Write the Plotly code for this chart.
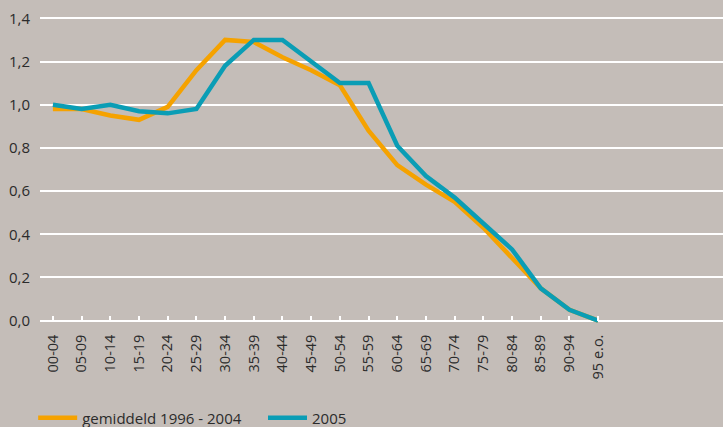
import plotly.graph_objects as go

categories = ["00-04", "05-09", "10-14", "15-19", "20-24", "25-29", "30-34", "35-39",
              "40-44", "45-49", "50-54", "55-59", "60-64", "65-69", "70-74", "75-79",
              "80-84", "85-89", "90-94", "95 e.o."]
gemiddeld = [0.98, 0.98, 0.95, 0.93, 0.99, 1.16, 1.30, 1.29, 1.22, 1.16, 1.09, 0.88,
             0.72, 0.63, 0.55, 0.43, 0.29, 0.15, 0.05, 0.0]
y2005 = [1.00, 0.98, 1.00, 0.97, 0.96, 0.98, 1.18, 1.30, 1.30, 1.20, 1.10, 1.10,
         0.81, 0.67, 0.57, 0.45, 0.33, 0.15, 0.05, 0.0]
y_ticks = [0.0, 0.2, 0.4, 0.6, 0.8, 1.0, 1.2, 1.4]

BG = "#C4BDB8"
ORANGE = "#F5A200"
TEAL = "#0A9DB5"
TXT = "#2b2b2b"

fig = go.Figure()
fig.add_trace(go.Scatter(x=categories, y=gemiddeld, mode="lines", name="gemiddeld 1996 - 2004",
                         line=dict(color=ORANGE, width=4.5), legend="legend"))
fig.add_trace(go.Scatter(x=categories, y=y2005, mode="lines", name="2005",
                         line=dict(color=TEAL, width=4.5), legend="legend2"))

ymin, ymax = -0.02, 1.42
leg_common = dict(orientation="h", xref="paper", yref="container", y=0.021,
                  xanchor="left", yanchor="middle", bgcolor="rgba(0,0,0,0)",
                  font=dict(size=15, color=TXT), itemwidth=39)
fig.update_layout(
    width=723, height=427,
    paper_bgcolor=BG, plot_bgcolor=BG,
    separators=",.",
    font=dict(family="Open Sans", size=14, color=TXT),
    margin=dict(l=40, r=0, t=14, b=102, autoexpand=False),
    showlegend=True,
    legend=dict(x=-0.01, **leg_common),
    legend2=dict(x=0.3265, **leg_common),
    xaxis=dict(type="category", range=[-0.45, 23.35], showgrid=False, zeroline=False,
               anchor="free", position=(0 - ymin) / (ymax - ymin),
               ticks="inside", ticklen=5, tickwidth=2, tickcolor="white",
               tickangle=-90, tickfont=dict(size=14.5, color=TXT), showline=False,
               ticklabelstandoff=10),
    yaxis=dict(range=[ymin, ymax], tickvals=y_ticks, tickformat=".1f",
               showgrid=True, gridcolor="white", gridwidth=2,
               zeroline=True, zerolinecolor="white", zerolinewidth=2,
               tickfont=dict(size=15, color=TXT), ticklabelstandoff=9, showline=False),
)

fig.write_html("out.html", config={"displayModeBar": False},
               post_script="document.body.style.margin='0';")
